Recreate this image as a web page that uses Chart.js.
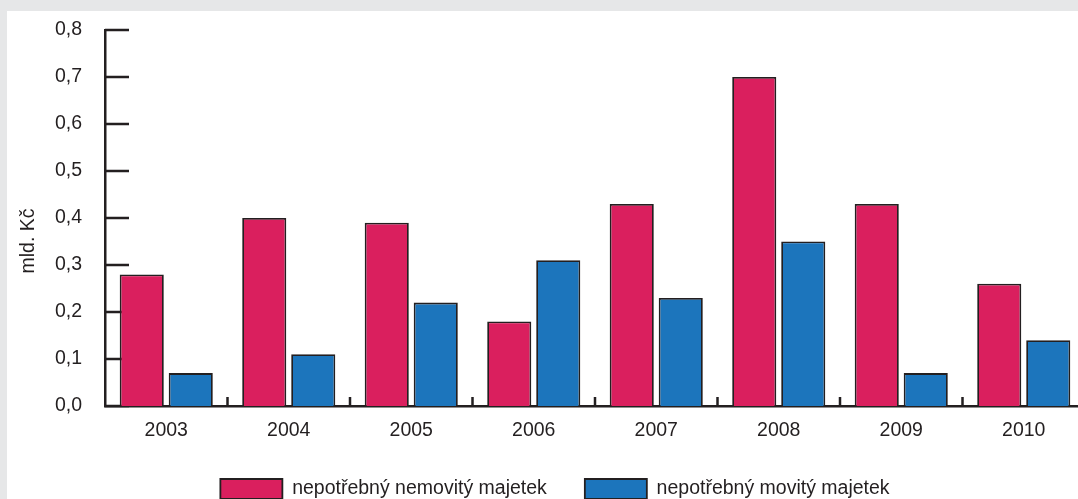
<!DOCTYPE html>
<html lang="cs">
<head>
  <meta charset="UTF-8">
  <title>Nepotřebný majetek</title>
  <script src="https://cdn.jsdelivr.net/npm/chart.js"></script>
  <style>
    html, body { margin: 0; padding: 0; overflow: hidden; background: #e6e7e8; width: 1078px; height: 499px; }
    #panel { position: absolute; left: 7px; top: 11px; width: 1200px; height: 600px; background: #fff; }
    #wrap { position: absolute; left: 0; top: 0; width: 1100px; height: 509px; }
  </style>
</head>
<body>
  <div id="panel"></div>
  <div id="wrap"><canvas id="graf"></canvas></div>

  <script>
    const roky = ['2003', '2004', '2005', '2006', '2007', '2008', '2009', '2010'];
    const nemovity = [0.28, 0.40, 0.39, 0.18, 0.43, 0.70, 0.43, 0.26];
    const movity = [0.07, 0.11, 0.22, 0.31, 0.23, 0.35, 0.07, 0.14];
    const osaY = ['0,0', '0,1', '0,2', '0,3', '0,4', '0,5', '0,6', '0,7', '0,8'];
    const popisY = 'mld. Kč';

    const barvaText = '#231f20';
    const pismo = { family: 'Liberation Sans, Arial, sans-serif', size: 19.5 };

    // vnitřní značky na osách + svislý popis
    const znacky = {
      id: 'znacky',
      beforeDatasetsDraw(chart) {
        const c = chart.ctx;
        const y = chart.scales.y;
        const x = chart.scales.x;
        const a = chart.chartArea;
        c.save();
        c.strokeStyle = barvaText;
        c.lineWidth = 2.5;
        c.beginPath();
        osaY.forEach((_, i) => {
          const py = y.getPixelForValue(i / 10);
          c.moveTo(a.left, py);
          c.lineTo(a.left + 24, py);
        });
        for (let i = 1; i < roky.length; i++) {
          const px = (x.getPixelForValue(i) + x.getPixelForValue(i - 1)) / 2;
          c.moveTo(px, a.bottom);
          c.lineTo(px, a.bottom - 9);
        }
        c.stroke();
        c.restore();
      },
      afterDraw(chart) {
        const c = chart.ctx;
        c.save();
        c.fillStyle = barvaText;
        c.font = pismo.size + 'px ' + pismo.family;
        c.textAlign = 'center';
        c.textBaseline = 'middle';
        c.translate(29, 241);
        c.rotate(-Math.PI / 2);
        c.fillText(popisY, 0, 0);
        c.restore();
      }
    };

    new Chart(document.getElementById('graf'), {
      type: 'bar',
      data: {
        labels: roky,
        datasets: [
          {
            label: 'nepotřebný nemovitý majetek',
            data: nemovity,
            backgroundColor: '#da1f5e',
            borderColor: '#231f20',
            borderWidth: 1.8,
            categoryPercentage: 0.8,
            barPercentage: 0.9
          },
          {
            label: 'nepotřebný movitý majetek',
            data: movity,
            backgroundColor: '#1c75bc',
            borderColor: '#231f20',
            borderWidth: 1.8,
            categoryPercentage: 0.8,
            barPercentage: 0.9
          }
        ]
      },
      options: {
        responsive: true,
        maintainAspectRatio: false,
        animation: false,
        layout: { padding: { left: 25, right: 15, top: 30, bottom: 0 } },
        scales: {
          x: {
            grid: { display: false },
            border: { display: true, width: 2.5, color: barvaText },
            ticks: { color: barvaText, font: pismo, padding: 5 },
            afterFit(s) { s.height = 35; }
          },
          y: {
            min: 0,
            max: 0.8,
            grid: { display: false },
            border: { display: true, width: 2.5, color: barvaText },
            ticks: {
              stepSize: 0.1,
              color: barvaText,
              font: pismo,
              padding: 15,
              callback: (v, i) => osaY[i]
            },
            afterFit(s) { s.width = 80; }
          }
        },
        plugins: {
          legend: {
            position: 'bottom',
            labels: {
              boxWidth: 62,
              boxHeight: 20,
              padding: 38,
              color: barvaText,
              font: pismo
            }
          },
          tooltip: { enabled: false }
        }
      },
      plugins: [znacky]
    });
  </script>
</body>
</html>
